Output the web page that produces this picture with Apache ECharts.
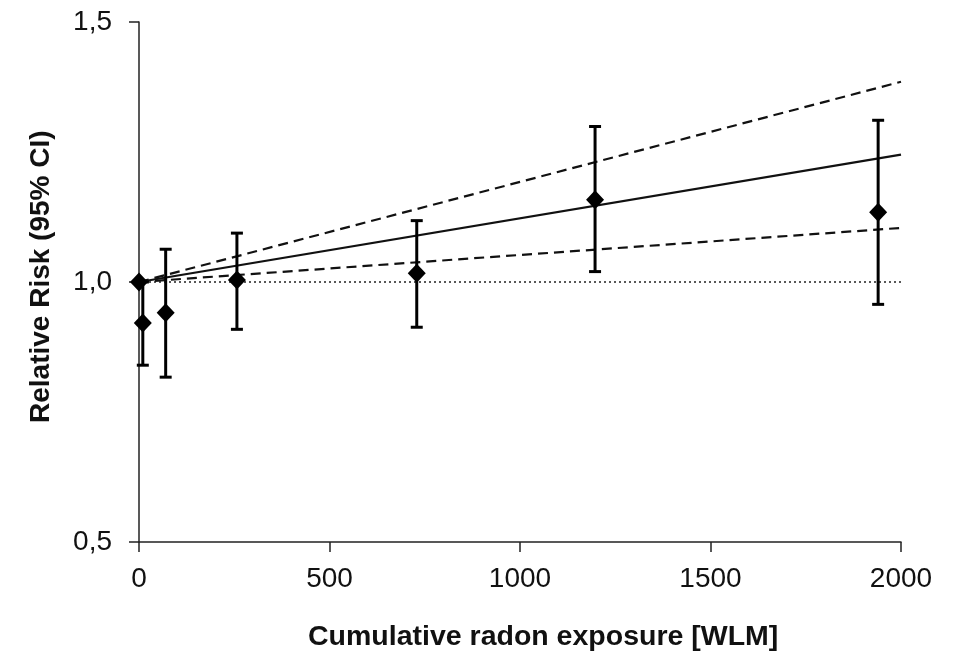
<!DOCTYPE html>
<html>
<head>
<meta charset="utf-8">
<script src="https://cdn.jsdelivr.net/npm/echarts@6/dist/echarts.min.js"></script>
<style>
html,body{margin:0;padding:0;background:#fff;}
#chart{width:963px;height:652px;}
</style>
</head>
<body>
<div id="chart"></div>
<script>
// Data
var exposure = [0, 10, 70, 257, 729, 1197, 1940];
var relRisk  = [1.0, 0.921, 0.941, 1.004, 1.017, 1.158, 1.134];
var ciLow    = [null, 0.840, 0.817, 0.909, 0.913, 1.020, 0.957];
var ciHigh   = [null, 1.000, 1.063, 1.094, 1.118, 1.299, 1.311];
var fitX     = [0, 2000];
var fitMain  = [1.0, 1.245];
var fitUpper = [1.0, 1.385];
var fitLower = [1.0, 1.104];
var refLine  = [1.0, 1.0];
var xTicks = [0, 500, 1000, 1500, 2000];
var yTicks = [0.5, 1.0, 1.5];

var points = exposure.map(function (x, i) { return [x, relRisk[i]]; });
var bars = [];
exposure.forEach(function (x, i) {
  if (ciLow[i] !== null) bars.push([x, ciLow[i], ciHigh[i]]);
});
function pairs(ys) { return fitX.map(function (x, i) { return [x, ys[i]]; }); }

var font = 'Arial, "Liberation Sans", sans-serif';
var chart = echarts.init(document.getElementById('chart'));
chart.setOption({
  animation: false,
  backgroundColor: '#fff',
  grid: { left: 139, right: 62, top: 22, bottom: 110, containLabel: false },
  xAxis: {
    type: 'value', min: 0, max: 2000, interval: 500,
    axisLine: { show: true, lineStyle: { color: '#222', width: 1.5 } },
    axisTick: { show: true, length: 10, lineStyle: { color: '#222', width: 1.5 } },
    splitLine: { show: false },
    axisLabel: { margin: 23, fontSize: 28, color: '#111', fontFamily: font,
      formatter: function (v) { return xTicks.indexOf(v) >= 0 ? String(v) : ''; } }
  },
  yAxis: {
    type: 'value', min: 0.5, max: 1.5, interval: 0.5,
    axisLine: { show: true, lineStyle: { color: '#222', width: 1.5 } },
    axisTick: { show: true, length: 10, lineStyle: { color: '#222', width: 1.5 } },
    splitLine: { show: false },
    axisLabel: { margin: 27, fontSize: 28, color: '#111', fontFamily: font,
      formatter: function (v) {
        var t = yTicks.filter(function (y) { return Math.abs(y - v) < 1e-9; });
        return t.length ? t[0].toFixed(1).replace('.', ',') : '';
      } }
  },
  graphic: [
    { type: 'text', silent: true, x: 308, y: 623,
      style: { text: 'Cumulative radon exposure [WLM]', fontSize: 28.5, fontWeight: 'bold',
        fontFamily: font, fill: '#111' } },
    { type: 'text', silent: true, rotation: Math.PI / 2,
      x: 27, y: 423,
      style: { text: 'Relative Risk (95% CI)', fontSize: 28, fontWeight: 'bold',
        fontFamily: font, fill: '#111' } }
  ],
  series: [
    { type: 'line', data: pairs(refLine), symbol: 'none', silent: true,
      lineStyle: { color: '#222', width: 1.5, type: [2, 3] }, z: 2 },
    { type: 'line', data: pairs(fitUpper), symbol: 'none', silent: true,
      lineStyle: { color: '#111', width: 2.2, type: [10, 6] }, z: 3 },
    { type: 'line', data: pairs(fitLower), symbol: 'none', silent: true,
      lineStyle: { color: '#111', width: 2.2, type: [10, 6] }, z: 3 },
    { type: 'line', data: pairs(fitMain), symbol: 'none', silent: true,
      lineStyle: { color: '#111', width: 2.2, type: 'solid' }, z: 3 },
    { type: 'custom', data: bars, z: 4, silent: true,
      renderItem: function (params, api) {
        var lo = api.coord([api.value(0), api.value(1)]);
        var hi = api.coord([api.value(0), api.value(2)]);
        var w = 6;
        var st = { stroke: '#000', lineWidth: 3 };
        return { type: 'group', children: [
          { type: 'line', shape: { x1: lo[0], y1: lo[1], x2: hi[0], y2: hi[1] }, style: st },
          { type: 'line', shape: { x1: lo[0] - w, y1: lo[1], x2: lo[0] + w, y2: lo[1] }, style: st },
          { type: 'line', shape: { x1: hi[0] - w, y1: hi[1], x2: hi[0] + w, y2: hi[1] }, style: st }
        ] };
      } },
    { type: 'scatter', data: points, symbol: 'diamond', symbolSize: [18, 19], z: 5,
      itemStyle: { color: '#000', opacity: 1 } }
  ]
});
</script>
</body>
</html>
